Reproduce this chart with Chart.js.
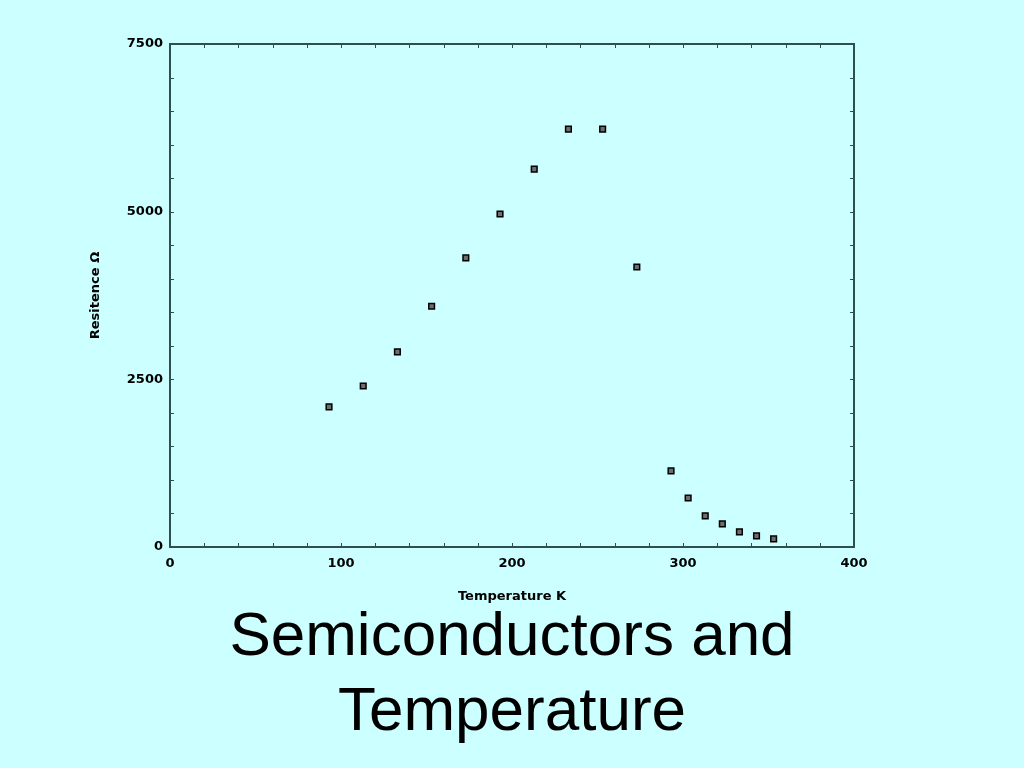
<!DOCTYPE html>
<html>
<head>
<meta charset="utf-8">
<script src="https://cdn.jsdelivr.net/npm/chart.js@4"></script>
<style>
  html, body { margin: 0; padding: 0; background: #ccffff; }
  #wrap { position: relative; width: 1024px; height: 768px; }
  #chart { position: absolute; left: 0; top: 0; }
  #heading {
    position: absolute; left: 0; top: 596px; width: 1024px;
    text-align: center; font-family: "Liberation Sans", Arial, sans-serif;
    font-size: 62px; line-height: 75px; color: #000;
  }
</style>
</head>
<body>
<div id="wrap">
  <canvas id="chart" width="1024" height="768"></canvas>
  <div id="heading">Semiconductors and<br>Temperature</div>
</div>
<script>
// temperature (K) and resistance (ohm)
const temperature = [93, 113, 133, 153, 173, 193, 213, 233, 253, 273, 293, 303, 313, 323, 333, 343, 353];
const resistance = [2090, 2400, 2910, 3590, 4310, 4965, 5635, 6230, 6230, 4175, 1135, 730, 465, 345, 225, 165, 120];
const xTicks = [0, 100, 200, 300, 400];
const yTicks = [0, 2500, 5000, 7500];

const axisColor = "#2f4f4f";
const labelFont = { family: "DejaVu Sans, sans-serif", size: 13, weight: "bold" };
const titleFont = { family: "DejaVu Sans, sans-serif", size: 13, weight: "bold" };

// frame around the plot with small inward ticks on all four sides
const framePlugin = {
  id: "frame",
  afterDraw(chart) {
    const { ctx, chartArea: a, scales } = chart;
    ctx.save();
    ctx.strokeStyle = axisColor;
    ctx.lineWidth = 2;
    ctx.strokeRect(a.left, a.top, a.right - a.left, a.bottom - a.top);
    ctx.lineWidth = 1;
    ctx.beginPath();
    for (let v = 20; v < 400; v += 20) {
      const px = Math.round(scales.x.getPixelForValue(v)) + 0.5;
      ctx.moveTo(px, a.bottom); ctx.lineTo(px, a.bottom - 4);
      ctx.moveTo(px, a.top); ctx.lineTo(px, a.top + 4);
    }
    for (let v = 500; v < 7500; v += 500) {
      const py = Math.round(scales.y.getPixelForValue(v)) + 0.5;
      ctx.moveTo(a.left, py); ctx.lineTo(a.left + 4, py);
      ctx.moveTo(a.right, py); ctx.lineTo(a.right - 4, py);
    }
    ctx.stroke();
    ctx.restore();
  },
};

new Chart(document.getElementById("chart").getContext("2d"), {
  type: "scatter",
  data: {
    datasets: [
      {
        data: temperature.map((t, i) => ({ x: t, y: resistance[i] })),
        pointStyle: "rect",
        pointRadius: 4,
        backgroundColor: "#6e6e6e",
        borderColor: "#000",
        borderWidth: 1.5,
      },
    ],
  },
  options: {
    responsive: false,
    animation: false,
    layout: { padding: { left: 88, top: 44, right: 170, bottom: 164 } },
    plugins: { legend: { display: false }, tooltip: { enabled: false } },
    scales: {
      x: {
        type: "linear",
        min: 0,
        max: 400,
        afterBuildTicks: (s) => { s.ticks = xTicks.map((v) => ({ value: v })); },
        afterFit: (s) => { s.height = 57; },
        grid: { display: false, drawTicks: false, tickLength: 0 },
        border: { display: false },
        ticks: { color: "#000", font: labelFont, padding: 9, callback: (v) => String(v) },
        title: { display: true, text: "Temperature K", color: "#000", font: titleFont, padding: 0 },
      },
      y: {
        type: "linear",
        min: 0,
        max: 7500,
        afterBuildTicks: (s) => { s.ticks = yTicks.map((v) => ({ value: v })); },
        afterFit: (s) => { s.width = 82; },
        grid: { display: false, drawTicks: false, tickLength: 0 },
        border: { display: false },
        ticks: { color: "#000", font: labelFont, padding: 7, callback: (v) => String(v) },
        title: { display: true, text: "Resitence Ω", color: "#000", font: titleFont, padding: 0 },
      },
    },
  },
  plugins: [framePlugin],
});
</script>
</body>
</html>
